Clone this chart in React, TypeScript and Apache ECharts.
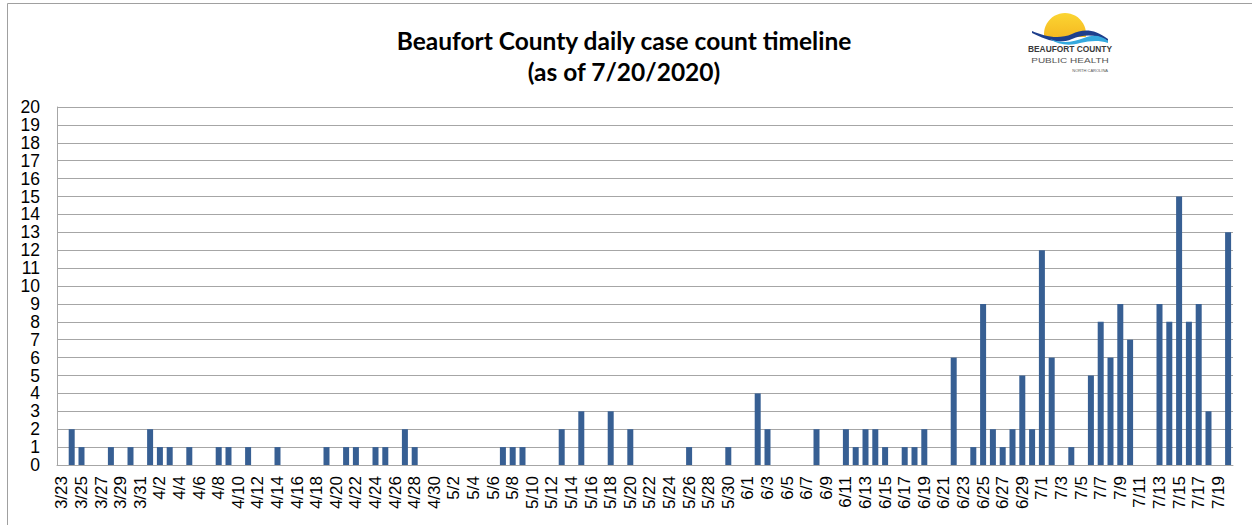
import React, { useEffect, useRef } from "react";
import * as echarts from "echarts";

// Daily case counts, 3/23/2020 .. 7/20/2020
const startMonth = 3;
const startDay = 23;
const marchValues = [0, 2, 1, 0, 0, 1, 0, 1, 0]; // 3/23 - 3/31
const aprilValues = [2, 1, 1, 0, 1, 0, 0, 1, 1, 0, 1, 0, 0, 1, 0, 0, 0, 0, 1, 0, 1, 1, 0, 1, 1, 0, 2, 1, 0, 0];
const mayValues = [0, 0, 0, 0, 0, 0, 1, 1, 1, 0, 0, 0, 2, 0, 3, 0, 0, 3, 0, 2, 0, 0, 0, 0, 0, 1, 0, 0, 0, 1, 0];
const juneValues = [0, 4, 2, 0, 0, 0, 0, 2, 0, 0, 2, 1, 2, 2, 1, 0, 1, 1, 2, 0, 0, 6, 0, 1, 9, 2, 1, 2, 5, 2];
const julyValues = [12, 6, 0, 1, 0, 5, 8, 6, 9, 7, 0, 0, 9, 8, 15, 8, 9, 3, 0, 13]; // 7/1 - 7/20

const monthLengths: Record<number, number> = { 3: 31, 4: 30, 5: 31, 6: 30, 7: 31 };
const values = [...marchValues, ...aprilValues, ...mayValues, ...juneValues, ...julyValues];

const categories: string[] = [];
{
  let m = startMonth;
  let d = startDay;
  for (let i = 0; i < values.length; i++) {
    categories.push(`${m}/${d}`);
    d++;
    if (d > monthLengths[m]) {
      d = 1;
      m++;
    }
  }
}

const yTicks = { min: 0, max: 20, interval: 1 };
const titleLines = ["Beaufort County daily case count timeline", "(as of 7/20/2020)"];

const wavePath =
  "M0,4 C12,9 26,13 40,7 C50,2 62,1 76,12 L76,14 C62,6 50,8 40,12 C26,18 12,12 0,6 Z";
const waveLightPath =
  "M18,12 C30,17 42,15 52,11 C62,7 70,9 76,14 L76,16 C66,13 58,14 48,16 C38,19 26,18 18,12 Z";

echarts.graphic.registerShape("waveDark", echarts.graphic.extendPath(wavePath, {}) as any);
echarts.graphic.registerShape("waveLight", echarts.graphic.extendPath(waveLightPath, {}) as any);

export default function App() {
  const ref = useRef<HTMLDivElement>(null);
  useEffect(() => {
    document.body.style.margin = "0";
    const chart = echarts.init(ref.current!, undefined, { renderer: "svg" });
    const font = "'Liberation Sans', Arial, sans-serif";
    const titleFont = "Lato, 'Open Sans', sans-serif";
    chart.setOption({
      animation: false,
      backgroundColor: "#ffffff",
      grid: { left: 57, right: 19, top: 107, bottom: 60 },
      xAxis: {
        type: "category",
        data: categories,
        boundaryGap: true,
        axisTick: { show: false },
        axisLine: { show: true, lineStyle: { color: "#a6a6a6", width: 1 } },
        axisLabel: {
          rotate: 90,
          interval: 1,
          fontSize: 17,
          color: "#000",
          fontFamily: font,
          margin: 11,
        },
        splitLine: { show: false },
      },
      yAxis: {
        type: "value",
        min: yTicks.min,
        max: yTicks.max,
        interval: yTicks.interval,
        axisLine: { show: true, lineStyle: { color: "#a6a6a6", width: 1 } },
        axisTick: { show: false },
        axisLabel: { fontSize: 17.5, color: "#000", fontFamily: font, margin: 17 },
        splitLine: { show: true, lineStyle: { color: "#a6a6a6", width: 1 } },
      },
      series: [
        {
          type: "bar",
          data: values,
          barWidth: 6,
          itemStyle: { color: "#375f93" },
        },
      ],
      graphic: [
        {
          type: "rect",
          shape: { x: 7.5, y: 3.5, width: 1300, height: 600 },
          style: { fill: "none", stroke: "#a0a0a0", lineWidth: 1 },
          silent: true,
        },
        {
          type: "text",
          x: 624,
          y: 40,
          style: {
            text: titleLines[0],
            fontSize: 24.5,
            fontWeight: "bold",
            fontFamily: titleFont,
            fill: "#000",
            align: "center",
            verticalAlign: "middle",
          },
        },
        {
          type: "text",
          x: 624,
          y: 71,
          style: {
            text: titleLines[1],
            fontSize: 24.5,
            fontWeight: "bold",
            fontFamily: titleFont,
            fill: "#000",
            align: "center",
            verticalAlign: "middle",
          },
        },
        // logo
        {
          type: "group",
          children: [
            {
              type: "circle",
              shape: { cx: 1065, cy: 34, r: 21 },
              style: {
                fill: new echarts.graphic.LinearGradient(0, 0, 0, 1, [
                  { offset: 0, color: "#fbd532" },
                  { offset: 1, color: "#f2a516" },
                ]),
              },
            },
            {
              type: "rect",
              shape: { x: 1040, y: 37, width: 52, height: 22 },
              style: { fill: "#ffffff" },
            },
            {
              type: "waveDark",
              x: 1032,
              y: 27,
              style: { fill: "#1e3f8c" },
            },
            {
              type: "waveLight",
              x: 1032,
              y: 27,
              style: { fill: "#35a9de" },
            },
            {
              type: "text",
              x: 1070,
              y: 49,
              scaleX: 0.88,
              style: {
                text: "BEAUFORT COUNTY",
                fontSize: 9.5,
                fontWeight: "bold",
                fontFamily: "'Liberation Sans', Arial, sans-serif",
                fill: "#3a3a3a",
                align: "center",
                verticalAlign: "middle",
              },
            },
            {
              type: "text",
              x: 1070,
              y: 60,
              scaleX: 1.25,
              style: {
                text: "PUBLIC HEALTH",
                fontSize: 8,
                fontFamily: "'Liberation Sans', Arial, sans-serif",
                fill: "#555",
                align: "center",
                verticalAlign: "middle",
              },
            },
            {
              type: "text",
              x: 1108,
              y: 70,
              style: {
                text: "NORTH CAROLINA",
                fontSize: 4,
                fontFamily: "'Liberation Sans', Arial, sans-serif",
                fill: "#555",
                align: "right",
                verticalAlign: "middle",
              },
            },
          ],
        },
      ],
    });
    return () => chart.dispose();
  }, []);
  return <div ref={ref} style={{ width: 1252, height: 525 }} />;
}
